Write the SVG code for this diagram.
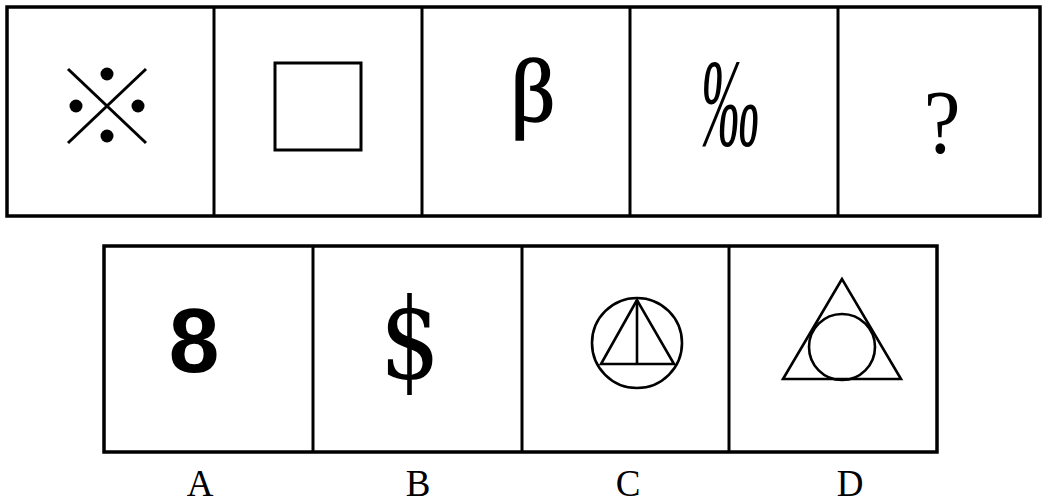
<svg xmlns="http://www.w3.org/2000/svg" width="1043" height="504" viewBox="0 0 1043 504">
<style>
.frame{fill:none;stroke:#000;stroke-width:3.5}
.div{stroke:#000;stroke-width:3}
.shape{fill:none;stroke:#000;stroke-width:3}
.thin{fill:none;stroke:#000;stroke-width:2.6}
.lbl{font-family:"Liberation Serif",serif;font-size:37px;text-anchor:middle;fill:#000}
.sym{text-anchor:middle;fill:#000}
</style>
<rect width="1043" height="504" fill="#fff"/>
<g id="top-row">
  <rect class="frame" x="7" y="7" width="1033" height="209"/>
  <line class="div" x1="214" y1="7" x2="214" y2="216"/>
  <line class="div" x1="422" y1="7" x2="422" y2="216"/>
  <line class="div" x1="630" y1="7" x2="630" y2="216"/>
  <line class="div" x1="838" y1="7" x2="838" y2="216"/>
</g>
<g id="cell1">
  <line class="shape" x1="68" y1="69" x2="146" y2="143"/>
  <line class="shape" x1="146" y1="69" x2="68" y2="143"/>
  <circle cx="107" cy="74" r="6.5"/>
  <circle cx="76" cy="106" r="6.5"/>
  <circle cx="138" cy="106" r="6.5"/>
  <circle cx="107" cy="136" r="6.5"/>
</g>
<g id="cell2">
  <rect class="shape" x="275" y="63" width="86" height="87"/>
</g>
<g id="cell3">
  <text class="sym" x="533" y="121" font-family="Liberation Serif, serif" font-size="88" stroke="#000" stroke-width="1.5">β</text>
</g>
<g id="cell4">
  <text class="sym" transform="translate(730,145) scale(0.5,1.06)" font-family="Liberation Serif, serif" font-style="italic" font-size="118">‰</text>
</g>
<g id="cell5">
  <text class="sym" transform="translate(942,153) scale(0.9,1)" font-family="Liberation Serif, serif" font-size="92">?</text>
</g>
<g id="bottom-row">
  <rect class="frame" x="104" y="246" width="833" height="206"/>
  <line class="div" x1="313" y1="246" x2="313" y2="452"/>
  <line class="div" x1="522" y1="246" x2="522" y2="452"/>
  <line class="div" x1="729" y1="246" x2="729" y2="452"/>
</g>
<g id="optA">
  <text class="sym" x="194" y="372" font-family="Liberation Sans, sans-serif" font-weight="bold" font-size="91">8</text>
</g>
<g id="optB">
  <text class="sym" transform="translate(410,378) scale(0.85,1)" font-family="DejaVu Serif, serif" font-size="112">$</text>
</g>
<g id="optC">
  <circle class="thin" cx="637" cy="343" r="45"/>
  <polygon class="thin" points="637,300 601,364 674,364"/>
  <line class="thin" x1="637" y1="300" x2="637" y2="364"/>
</g>
<g id="optD">
  <polygon class="thin" points="842,279 783,379 901,379"/>
  <circle class="thin" cx="842" cy="347" r="33"/>
</g>
<g id="labels">
  <text class="lbl" x="200" y="496">A</text>
  <text class="lbl" x="418" y="496">B</text>
  <text class="lbl" x="628" y="496">C</text>
  <text class="lbl" x="850" y="496">D</text>
</g>
</svg>
